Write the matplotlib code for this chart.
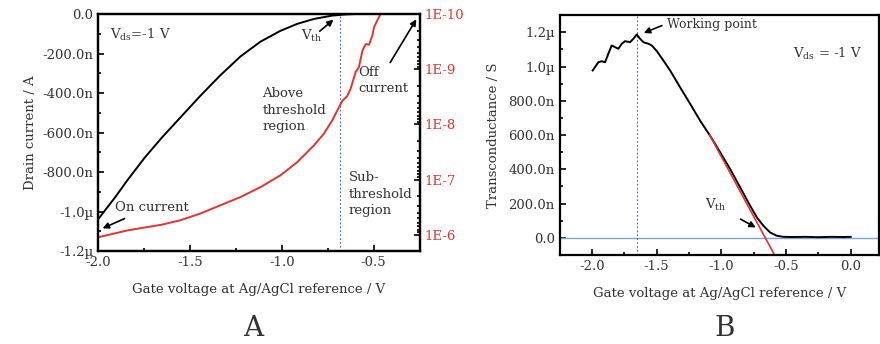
import numpy as np
import matplotlib
matplotlib.use("Agg")
import matplotlib.pyplot as plt
from matplotlib.ticker import FuncFormatter, MultipleLocator, LogLocator, NullFormatter

plt.rcParams['font.family'] = 'DejaVu Serif'
plt.rcParams['mathtext.fontset'] = 'dejavuserif'
plt.rcParams['font.size'] = 9.5

# panel A: drain current (linear, left axis)
vg_a = [-2.0, -1.907, -1.835, -1.744, -1.652, -1.553, -1.444, -1.334, -1.225,
        -1.116, -1.007, -0.916, -0.825, -0.725, -0.65, -0.6]
id_a = [-1.04e-6, -0.928e-6, -0.835e-6, -0.725e-6, -0.625e-6, -0.525e-6,
        -0.415e-6, -0.31e-6, -0.215e-6, -0.14e-6, -0.085e-6, -0.05e-6,
        -0.025e-6, -0.008e-6, -0.002e-6, 0.0]

# panel A: |drain current| (log, right axis)
vg_log = [-2.0, -1.835, -1.652, -1.553, -1.444, -1.334, -1.225, -1.116, -1.007,
          -0.916, -0.825, -0.771, -0.725, -0.698, -0.670, -0.645, -0.625, -0.598,
          -0.58, -0.561, -0.543, -0.525, -0.507, -0.498, -0.48, -0.462]
id_log = [1.1e-6, 8.2e-7, 6.5e-7, 5.42e-7, 4.1e-7, 2.9e-7, 2.06e-7, 1.36e-7,
          8.3e-8, 4.8e-8, 2.39e-8, 1.47e-8, 8.4e-9, 5.6e-9, 3.7e-9, 3.1e-9,
          2.24e-9, 1.12e-9, 9.1e-10, 4.6e-10, 3.5e-10, 3.6e-10, 2.45e-10,
          1.74e-10, 1.3e-10, 1.0e-10]
vth_a = -0.685

# panel B: transconductance
vg_b = [-1.995, -1.951, -1.925, -1.899, -1.874, -1.848, -1.822, -1.796, -1.770,
        -1.745, -1.706, -1.680, -1.654, -1.628, -1.603, -1.564, -1.538, -1.499,
        -1.448, -1.396, -1.319, -1.241, -1.164, -1.087, -1.009, -0.932, -0.854,
        -0.777, -0.725, -0.674, -0.622, -0.570, -0.519, -0.45, -0.35, -0.25,
        -0.15, -0.05, 0.0]
gm_b = [0.977e-6, 1.025e-6, 1.031e-6, 1.025e-6, 1.074e-6, 1.123e-6, 1.113e-6,
        1.104e-6, 1.133e-6, 1.148e-6, 1.142e-6, 1.162e-6, 1.187e-6, 1.162e-6,
        1.142e-6, 1.133e-6, 1.123e-6, 1.090e-6, 1.035e-6, 0.977e-6, 0.879e-6,
        0.782e-6, 0.684e-6, 0.596e-6, 0.499e-6, 0.402e-6, 0.294e-6, 0.187e-6,
        0.119e-6, 0.070e-6, 0.031e-6, 0.012e-6, 0.006e-6, 0.005e-6, 0.006e-6,
        0.004e-6, 0.006e-6, 0.005e-6, 0.006e-6]
tangent_v = [-1.09, -0.585]
tangent_gm = [0.60e-6, -0.105e-6]
working_v = -1.654

red = '#e8312c'
tick_col = '#333333'


def fmt_si(v, _):
    if abs(v) < 1e-12:
        return '0.0'
    if abs(v) >= 1e-6 - 1e-12:
        return '%.1f\u00b5' % (v * 1e6)
    return '%.1fn' % (v * 1e9)


def style(ax):
    for s in ax.spines.values():
        s.set_linewidth(1.6)
    ax.tick_params(which='both', direction='in', colors='black',
                   labelcolor=tick_col, width=1.2)
    ax.tick_params(which='major', length=4)
    ax.tick_params(which='minor', length=2.5)


fig = plt.figure(figsize=(8.8, 3.44), dpi=100)

# ---------------- panel A
axa = fig.add_axes([0.1114, 0.2703, 0.3654, 0.689])
axa.plot(vg_a, id_a, color='black', lw=1.4)
axa.set_xlim(-2.0, -0.25)
axa.set_ylim(-1.2e-6, 0.0)
axa.xaxis.set_major_locator(MultipleLocator(0.5))
axa.xaxis.set_minor_locator(MultipleLocator(0.25))
axa.yaxis.set_major_locator(MultipleLocator(200e-9))
axa.yaxis.set_minor_locator(MultipleLocator(100e-9))
axa.yaxis.set_major_formatter(FuncFormatter(fmt_si))
axa.xaxis.set_major_formatter(FuncFormatter(lambda v, _: '%.1f' % v))
style(axa)
axa.tick_params(right=False, top=False)
axa.axvline(vth_a, color='#4a5fd0', lw=0.8, ls=(0, (1.5, 2)))
axa.set_xlabel('Gate voltage at Ag/AgCl reference / V', labelpad=10, color=tick_col)
axa.set_ylabel('Drain current / A', labelpad=4, color=tick_col)

axr = axa.twinx()
axr.set_yscale('log')
axr.plot(vg_log, id_log, color=red, lw=1.4)
axr.set_ylim(1.95e-6, 1e-10)
axr.yaxis.set_major_locator(LogLocator(base=10, numticks=10))
axr.yaxis.set_minor_locator(LogLocator(base=10, subs=np.arange(2, 10), numticks=10))
axr.yaxis.set_minor_formatter(NullFormatter())
axr.yaxis.set_major_formatter(FuncFormatter(lambda v, _: '1E%d' % round(np.log10(v))))
style(axr)
axr.tick_params(axis='y', labelcolor=red)

axa.text(-1.935, -0.106e-6, r'V$_{\mathrm{ds}}$=-1 V', va='center', ha='left', color=tick_col)
axa.text(-0.838, -0.11e-6, r'V$_{\mathrm{th}}$', va='center', ha='center', color=tick_col)
axa.annotate('', xy=(-0.707, -0.02e-6), xytext=(-0.805, -0.096e-6),
             arrowprops=dict(arrowstyle='-|>', color='black', lw=1.2, mutation_scale=9))
axa.text(-1.105, -0.37e-6, 'Above\nthreshold\nregion', va='top', ha='left',
         linespacing=1.35, color=tick_col)
axa.text(-0.582, -0.262e-6, 'Off\ncurrent', va='top', ha='left',
         linespacing=1.35, color=tick_col)
axa.annotate('', xy=(-0.26, -0.015e-6), xytext=(-0.418, -0.258e-6),
             arrowprops=dict(arrowstyle='-|>', color='black', lw=1.2, mutation_scale=9))
axa.text(-0.636, -0.795e-6, 'Sub-\nthreshold\nregion', va='top', ha='left',
         linespacing=1.35, color=tick_col)
axa.text(-1.907, -0.98e-6, 'On current', va='center', ha='left', color=tick_col)
axa.annotate('', xy=(-1.989, -1.091e-6), xytext=(-1.842, -1.03e-6),
             arrowprops=dict(arrowstyle='-|>', color='black', lw=1.2, mutation_scale=9))

# ---------------- panel B
axb = fig.add_axes([0.636, 0.2587, 0.363, 0.6973])
axb.axhline(0, color='#7aa6e0', lw=1.0)
axb.axvline(working_v, color='#4a5fd0', lw=0.8, ls=(0, (1.5, 2)))
axb.plot(vg_b, gm_b, color='black', lw=1.4)
axb.plot(tangent_v, tangent_gm, color=red, lw=1.2)
axb.set_xlim(-2.25, 0.22)
axb.set_ylim(-0.1e-6, 1.3e-6)
axb.xaxis.set_major_locator(MultipleLocator(0.5))
axb.xaxis.set_minor_locator(MultipleLocator(0.25))
axb.yaxis.set_major_locator(MultipleLocator(200e-9))
axb.yaxis.set_minor_locator(MultipleLocator(100e-9))
axb.yaxis.set_major_formatter(FuncFormatter(fmt_si))
axb.xaxis.set_major_formatter(FuncFormatter(lambda v, _: '%.1f' % (0.0 if abs(v) < 1e-9 else v)))
style(axb)
axb.set_xlabel('Gate voltage at Ag/AgCl reference / V', labelpad=10, color=tick_col)
axb.set_ylabel('Transconductance / S', labelpad=6, color=tick_col)

axb.text(-1.42, 1.245e-6, 'Working point', va='center', ha='left', color=tick_col, fontsize=9)
axb.annotate('', xy=(-1.62, 1.19e-6), xytext=(-1.44, 1.245e-6),
             arrowprops=dict(arrowstyle='-|>', color='black', lw=1.2, mutation_scale=9))
axb.text(-0.444, 1.076e-6, r'V$_{\mathrm{ds}}$ = -1 V', va='center', ha='left', color=tick_col)
axb.text(-1.125, 0.19e-6, r'V$_{\mathrm{th}}$', va='center', ha='left', color=tick_col)
axb.annotate('', xy=(-0.715, 0.053e-6), xytext=(-0.87, 0.117e-6),
             arrowprops=dict(arrowstyle='-|>', color='black', lw=1.2, mutation_scale=9))

fig.text(253 / 880, 1 - 328 / 344, 'A', ha='center', va='center', fontsize=20, color=tick_col)
fig.text(725 / 880, 1 - 328 / 344, 'B', ha='center', va='center', fontsize=20, color=tick_col)

fig.savefig('out.png', dpi=100)
